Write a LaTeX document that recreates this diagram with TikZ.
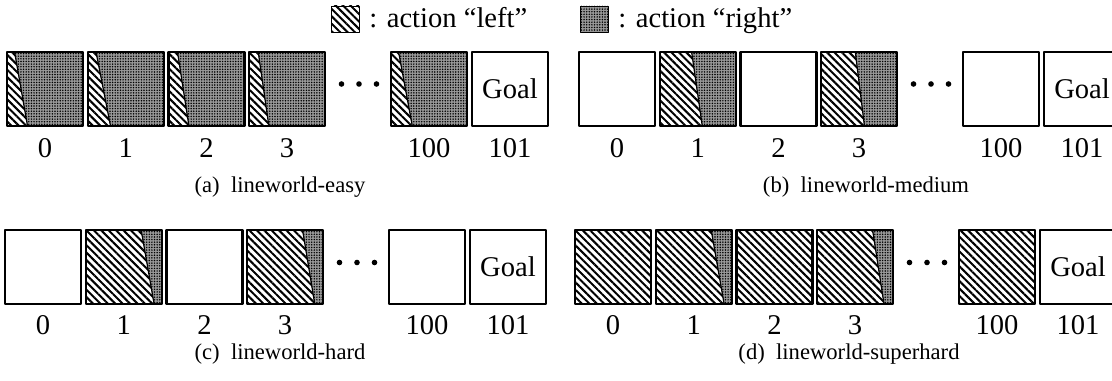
\documentclass[tikz,border=0pt]{standalone}
\usepackage{fontspec}
\setmainfont{Liberation Serif}
\usetikzlibrary{patterns.meta}

\tikzset{
	leftact/.style={pattern={Lines[angle=-45,distance=2.2pt,line width=0.85pt]}},
	rightact/.style={preaction={fill=gray!80},pattern={Dots[distance=1.1pt,radius=0.35pt]}},
	cellbox/.style={line width=1pt},
	splitline/.style={line width=0.5pt},
	numlabel/.style={font=\fontsize{12}{14}\selectfont},
	caplabel/.style={font=\fontsize{9.5}{11}\selectfont},
}

% one cell: #1,#2 lower left corner; #3,#4 split at top / bottom (part of width), -1 = empty
\newcommand{\lwcell}[4]{%
	\ifdim #3pt<0pt
		\draw[cellbox,fill=white] (#1,#2) rectangle ++(\bw,\bh);
	\else
		\path[leftact] (#1,#2) -- (#1+#4*\bw,#2) -- (#1+#3*\bw,#2+\bh) -- (#1,#2+\bh) -- cycle;
		\path[rightact] (#1+#4*\bw,#2) -- (#1+\bw,#2) -- (#1+\bw,#2+\bh) -- (#1+#3*\bw,#2+\bh) -- cycle;
		\draw[splitline] (#1+#4*\bw,#2) -- (#1+#3*\bw,#2+\bh);
		\draw[cellbox] (#1,#2) rectangle ++(\bw,\bh);
	\fi}

\begin{document}
\begin{tikzpicture}[x=0.42pt,y=0.42pt, line join=round]
	\def\bw{76} \def\bh{74}
	\useasboundingbox (0,0) rectangle (1112,381);
	
	% [Legend]
	\path[leftact] (331,349) rectangle ++(28,26);
	\draw[thin] (331,349) rectangle ++(28,26);
	\node[numlabel,anchor=base west] (leg-left) at (361,353) {: action “left”};
	\path[rightact] (580,349) rectangle ++(28,26);
	\draw[thin] (580,349) rectangle ++(28,26);
	\node[numlabel,anchor=base west] (leg-right) at (610,353) {: action “right”};
	
	% [(a) lineworld-easy]
	\def\px{7} \def\py{255}
	\foreach \dx/\ta/\tb/\lab [count=\n] in {0/0.10/0.27/0, 80.7/0.11/0.30/1, 161.4/0.12/0.27/2, 242.1/0.12/0.26/3, 384/0.10/0.28/100}{
		\lwcell{\px+\dx}{\py}{\ta}{\tb}
		\node[numlabel] (a-num\n) at (\px+\dx+\bw/2,\py-22) {\lab};
	}
	\foreach \k in {-1,0,1} \fill (\px+352+\k*17.5,\py+\bh/2+5) circle (2.8);
	\draw[cellbox] (\px+465,\py) rectangle ++(\bw,\bh);
	\node[numlabel] (a-goal) at (\px+465+\bw/2,\py+\bh/2) {Goal};
	\node[numlabel] (a-num6) at (\px+465+\bw/2,\py-22) {101};
	\node[caplabel] (a-cap) at (280,194) {(a)\enspace lineworld-easy};
	
	% [(b) lineworld-medium]
	\def\px{579} \def\py{255}
	\foreach \dx/\ta/\tb/\lab [count=\n] in {0/-1/-1/0, 80.7/0.42/0.56/1, 161.4/-1/-1/2, 242.1/0.45/0.57/3, 384/-1/-1/100}{
		\lwcell{\px+\dx}{\py}{\ta}{\tb}
		\node[numlabel] (b-num\n) at (\px+\dx+\bw/2,\py-22) {\lab};
	}
	\foreach \k in {-1,0,1} \fill (\px+352+\k*17.5,\py+\bh/2+5) circle (2.8);
	\draw[cellbox] (\px+465,\py) rectangle ++(\bw,\bh);
	\node[numlabel] (b-goal) at (\px+465+\bw/2,\py+\bh/2) {Goal};
	\node[numlabel] (b-num6) at (\px+465+\bw/2,\py-22) {101};
	\node[caplabel] (b-cap) at (866,194) {(b)\enspace lineworld-medium};
	
	% [(c) lineworld-hard]
	\def\px{5} \def\py{77}
	\foreach \dx/\ta/\tb/\lab [count=\n] in {0/-1/-1/0, 80.7/0.73/0.90/1, 161.4/-1/-1/2, 242.1/0.73/0.89/3, 384/-1/-1/100}{
		\lwcell{\px+\dx}{\py}{\ta}{\tb}
		\node[numlabel] (c-num\n) at (\px+\dx+\bw/2,\py-21) {\lab};
	}
	\foreach \k in {-1,0,1} \fill (\px+352+\k*17.5,\py+\bh/2+4.5) circle (2.8);
	\draw[cellbox] (\px+465,\py) rectangle ++(\bw,\bh);
	\node[numlabel] (c-goal) at (\px+465+\bw/2,\py+\bh/2) {Goal};
	\node[numlabel] (c-num6) at (\px+465+\bw/2,\py-21) {101};
	\node[caplabel] (c-cap) at (280,27) {(c)\enspace lineworld-hard};
	
	% [(d) lineworld-superhard]
	\def\px{575} \def\py{77}
	\foreach \dx/\ta/\tb/\lab [count=\n] in {0/1/1/0, 80.7/0.73/0.90/1, 161.4/1/1/2, 242.1/0.73/0.88/3, 384/1/1/100}{
		\lwcell{\px+\dx}{\py}{\ta}{\tb}
		\node[numlabel] (d-num\n) at (\px+\dx+\bw/2,\py-21) {\lab};
	}
	\foreach \k in {-1,0,1} \fill (\px+352+\k*17.5,\py+\bh/2+4.5) circle (2.8);
	\draw[cellbox] (\px+465,\py) rectangle ++(\bw,\bh);
	\node[numlabel] (d-goal) at (\px+465+\bw/2,\py+\bh/2) {Goal};
	\node[numlabel] (d-num6) at (\px+465+\bw/2,\py-21) {101};
	\node[caplabel] (d-cap) at (849,27) {(d)\enspace lineworld-superhard};
\end{tikzpicture}
\end{document}
